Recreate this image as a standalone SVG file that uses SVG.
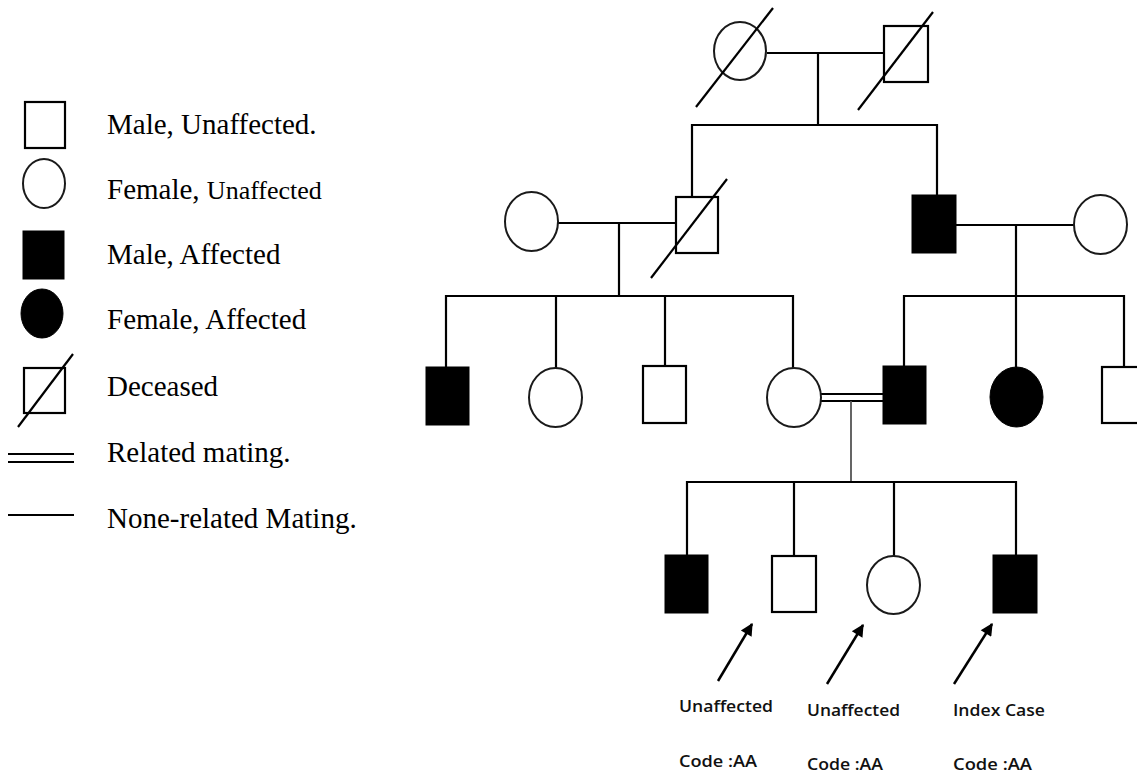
<svg xmlns="http://www.w3.org/2000/svg" width="1137" height="778" viewBox="0 0 1137 778">
<style>
.m{fill:#fff;stroke:#000;stroke-width:2.2}
.f{fill:#fff;stroke:#1a1a1a;stroke-width:2}
.a{fill:#000;stroke:#000;stroke-width:1}
.ln{stroke:#000;stroke-width:2.2;fill:none}
.ar{stroke:#000;stroke-width:2.5;fill:none}
.thin{stroke:#555;stroke-width:1.8;fill:none}
.dl{stroke:#000;stroke-width:1.8;fill:none}
.lt{font-family:"Liberation Serif","Times New Roman",serif;font-size:29px;fill:#000}
.sm{font-size:26px}
.bt{font-family:"Open Sans","Liberation Sans",sans-serif;font-size:16.5px;font-weight:600;fill:#111}
</style>
<defs>
<marker id="ah" viewBox="0 0 10 10" refX="9" refY="5" markerWidth="6" markerHeight="5" orient="auto" markerUnits="strokeWidth">
<path d="M0,0 L10,5 L0,10 z" fill="#000"/>
</marker>
</defs>
<rect width="1137" height="778" fill="#fff"/>

<g id="legend">
<rect class="m" x="25" y="102" width="40" height="46"/>
<ellipse class="f" cx="44" cy="183.5" rx="21" ry="24.5"/>
<rect class="a" x="23" y="231" width="41" height="48"/>
<ellipse class="a" cx="42" cy="313.5" rx="21" ry="24.5"/>
<rect class="m" x="24" y="368" width="41" height="45"/>
<line class="ln" x1="18" y1="427" x2="73" y2="354"/>
<line class="dl" x1="8" y1="454" x2="74" y2="454"/>
<line class="dl" x1="8" y1="462" x2="74" y2="462"/>
<line class="ln" x1="8" y1="515" x2="74" y2="515"/>
<text class="lt" x="107" y="134">Male, Unaffected.</text>
<text class="lt" x="107" y="199">Female, <tspan class="sm">Unaffected</tspan></text>
<text class="lt" x="107" y="264">Male, Affected</text>
<text class="lt" x="107" y="329">Female, Affected</text>
<text class="lt" x="107" y="396">Deceased</text>
<text class="lt" x="107" y="462">Related mating.</text>
<text class="lt" x="107" y="528">None-related Mating.</text>
</g>

<g id="connectors">
<line class="ln" x1="767" y1="53" x2="884" y2="53"/>
<line class="ln" x1="818" y1="53" x2="818" y2="125"/>
<line class="ln" x1="692" y1="125" x2="937" y2="125"/>
<line class="ln" x1="692" y1="124" x2="692" y2="197"/>
<line class="ln" x1="937" y1="124" x2="937" y2="195"/>
<line class="ln" x1="558" y1="223" x2="676" y2="223"/>
<line class="ln" x1="619" y1="223" x2="619" y2="296"/>
<line class="ln" x1="446" y1="296" x2="794" y2="296"/>
<line class="ln" x1="446" y1="295" x2="446" y2="367"/>
<line class="ln" x1="556" y1="295" x2="556" y2="368"/>
<line class="ln" x1="665" y1="295" x2="665" y2="366"/>
<line class="ln" x1="793" y1="295" x2="793" y2="368"/>
<line class="ln" x1="956" y1="225" x2="1074" y2="225"/>
<line class="ln" x1="1016" y1="225" x2="1016" y2="296"/>
<line class="ln" x1="904" y1="296" x2="1124" y2="296"/>
<line class="ln" x1="904" y1="295" x2="904" y2="366"/>
<line class="ln" x1="1016" y1="295" x2="1016" y2="367"/>
<line class="ln" x1="1124" y1="295" x2="1124" y2="367"/>
<line class="dl" x1="821" y1="394" x2="883" y2="394"/>
<line class="dl" x1="821" y1="401" x2="883" y2="401"/>
<line class="thin" x1="851" y1="401" x2="851" y2="482"/>
<line class="ln" x1="687" y1="482" x2="1016" y2="482"/>
<line class="ln" x1="687" y1="481" x2="687" y2="555"/>
<line class="ln" x1="794" y1="481" x2="794" y2="556"/>
<line class="ln" x1="894" y1="481" x2="894" y2="556"/>
<line class="ln" x1="1016" y1="481" x2="1016" y2="555"/>
<line class="ar" x1="718" y1="681" x2="752" y2="624" marker-end="url(#ah)"/>
<line class="ar" x1="827" y1="684" x2="863" y2="625" marker-end="url(#ah)"/>
<line class="ar" x1="954" y1="684" x2="992" y2="624" marker-end="url(#ah)"/>
</g>

<g id="I-1"><ellipse class="f" cx="740" cy="51" rx="26" ry="29"/><line class="ln" x1="696" y1="107" x2="773" y2="8"/></g>
<g id="I-2"><rect class="m" x="884" y="26" width="44" height="56"/><line class="ln" x1="858" y1="110" x2="933" y2="12"/></g>

<g id="II-1"><ellipse class="f" cx="531.5" cy="221.5" rx="26.5" ry="29.5"/></g>
<g id="II-2"><rect class="m" x="676" y="197" width="42" height="56"/><line class="ln" x1="651" y1="278" x2="727" y2="179"/></g>
<g id="II-3"><rect class="a" x="912" y="195" width="44" height="58"/></g>
<g id="II-4"><ellipse class="f" cx="1100.5" cy="224.5" rx="26.5" ry="29.5"/></g>

<g id="III-1"><rect class="a" x="426" y="367" width="43" height="58"/></g>
<g id="III-2"><ellipse class="f" cx="555.5" cy="397.5" rx="26.5" ry="29.5"/></g>
<g id="III-3"><rect class="m" x="643" y="366" width="43" height="57"/></g>
<g id="III-4"><ellipse class="f" cx="794" cy="397.5" rx="27" ry="29.5"/></g>
<g id="III-5"><rect class="a" x="883" y="366" width="43" height="58"/></g>
<g id="III-6"><ellipse class="a" cx="1016.5" cy="397" rx="26.5" ry="30"/></g>
<g id="III-7"><rect class="m" x="1102" y="367" width="44" height="56"/></g>

<g id="IV-1"><rect class="a" x="665" y="555" width="43" height="58"/></g>
<g id="IV-2"><rect class="m" x="772" y="556" width="44" height="56"/></g>
<g id="IV-3"><ellipse class="f" cx="893.5" cy="585" rx="26.5" ry="29"/></g>
<g id="IV-4"><rect class="a" x="993" y="555" width="44" height="58"/></g>

<g id="labels">
<text class="bt" x="679" y="712" textLength="94" lengthAdjust="spacingAndGlyphs">Unaffected</text>
<text class="bt" x="807" y="716" textLength="93" lengthAdjust="spacingAndGlyphs">Unaffected</text>
<text class="bt" x="953" y="716" textLength="92" lengthAdjust="spacingAndGlyphs">Index Case</text>
<text class="bt" x="679" y="767" textLength="78" lengthAdjust="spacingAndGlyphs">Code :AA</text>
<text class="bt" x="807" y="770" textLength="76" lengthAdjust="spacingAndGlyphs">Code :AA</text>
<text class="bt" x="953" y="770" textLength="79" lengthAdjust="spacingAndGlyphs">Code :AA</text>
</g>
</svg>
